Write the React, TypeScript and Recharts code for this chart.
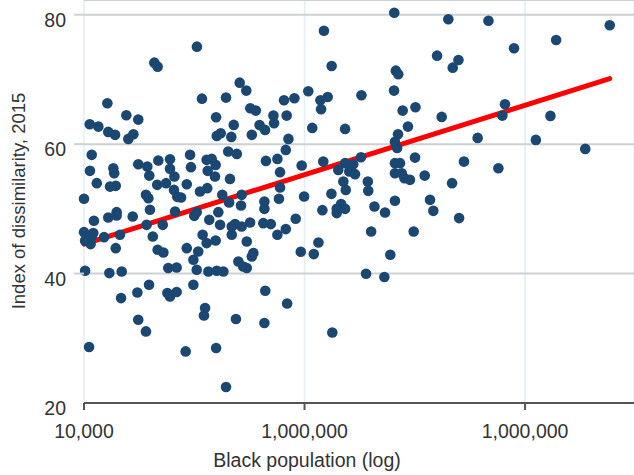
import React from 'react';
import { ScatterChart, Scatter, XAxis, YAxis, CartesianGrid, ReferenceLine } from 'recharts';

// log10 of black population
const blackPopLog = [
  4.512, 4.319, 4.334, 4.706, 4.736, 4.535, 4.644, 4.106, 4.754, 4.779,
  4.599, 4.192, 4.246, 4.026, 4.065, 4.679, 4.796, 4.110, 4.141, 4.224,
  4.201, 4.602, 4.620, 4.668, 4.761, 5.407, 5.088, 5.601, 5.123, 5.414,
  5.425, 5.017, 5.406, 4.907, 4.954, 5.072, 5.105, 5.258, 5.075, 5.445,
  5.503, 4.859, 4.919, 5.622, 4.821, 4.862, 5.035, 5.184, 5.469, 5.424,
  4.927, 5.652, 5.834, 6.384, 6.141, 5.950, 5.698, 5.672, 5.909, 5.897,
  6.115, 5.785, 6.049, 6.273, 5.723, 5.879, 5.669, 5.701, 4.035, 4.027,
  4.058, 4.133, 4.137, 4.118, 4.144, 4.000, 4.246, 4.287, 4.296, 4.337,
  4.390, 4.390, 4.410, 4.332, 4.372, 4.408, 4.423, 4.440, 4.466, 4.481,
  4.485, 4.556, 4.579, 4.597, 4.561, 4.594, 4.654, 4.693, 4.662, 4.526,
  4.559, 4.281, 4.292, 4.299, 4.627, 4.658, 4.715, 4.712, 4.148, 4.148,
  4.110, 4.221, 4.045, 4.000, 4.042, 4.035, 4.030, 4.005, 4.091, 4.163,
  4.144, 4.284, 4.312, 4.357, 4.413, 4.500, 4.511, 4.568, 4.609, 4.617,
  4.538, 4.556, 4.597, 4.670, 4.685, 4.715, 4.753, 4.670, 4.738, 4.466,
  4.334, 4.360, 4.518, 4.496, 4.768, 4.761, 4.700, 4.722, 4.005, 4.115,
  4.171, 4.382, 4.420, 4.511, 4.564, 4.602, 4.632, 4.738, 4.295, 4.242,
  4.168, 4.378, 4.390, 4.420, 4.496, 4.549, 4.544, 4.246, 4.281, 4.689,
  4.023, 4.461, 4.599, 4.644, 5.279, 5.362, 4.822, 4.921, 4.818, 5.126,
  4.915, 4.825, 4.877, 4.889, 4.987, 4.889, 5.085, 5.153, 5.184, 5.221,
  5.203, 5.229, 5.256, 5.176, 5.187, 5.287, 5.289, 5.410, 5.420, 5.410,
  5.433, 5.410, 5.441, 5.453, 5.478, 5.501, 5.545, 4.998, 5.122, 5.081,
  5.166, 5.146, 5.184, 5.146, 5.317, 5.365, 5.410, 5.569, 5.584, 4.818,
  4.818, 4.884, 4.813, 4.847, 4.877, 4.915, 4.960, 5.302, 5.495, 5.063,
  4.983, 5.042, 5.389,
];

const dissimilarity = [
  75.06, 72.59, 71.97, 69.5, 68.27, 67.03, 67.19, 66.32, 65.55, 65.18,
  64.16, 64.47, 63.79, 63.08, 62.71, 62.97, 62.94, 61.89, 61.43, 61.53,
  60.81, 61.27, 61.69, 61.12, 61.43, 80.31, 77.53, 73.67, 72.08, 71.35,
  70.8, 68.17, 68.27, 66.78, 67.09, 66.78, 67.29, 67.56, 65.39, 65.18,
  65.7, 64.41, 64.41, 64.21, 62.2, 63.23, 62.51, 62.35, 62.71, 61.53,
  60.81, 79.29, 79.07, 78.36, 76.09, 74.81, 73.01, 71.82, 66.17, 64.41,
  64.36, 60.96, 60.65, 59.26, 57.3, 56.28, 53.97, 48.57, 58.34, 55.87,
  53.97, 56.28, 55.51, 53.44, 53.55, 51.55, 56.9, 56.53, 55.14, 57.46,
  57.67, 56.18, 54.99, 53.71, 53.97, 52.93, 51.85, 51.75, 53.81, 58.34,
  56.44, 57.57, 57.72, 56.79, 55.87, 54.99, 58.85, 58.49, 54.63, 52.67,
  53.2, 52.16, 51.65, 49.85, 52.16, 50.97, 52.16, 50.51, 49.49, 48.97,
  48.66, 48.81, 48.15, 46.4, 46.25, 45.72, 44.55, 45.06, 45.63, 45.99,
  43.93, 47.53, 45.72, 47.53, 49.58, 48.92, 49.49, 48.3, 49.49, 47.53,
  45.99, 44.71, 45.11, 47.27, 47.64, 47.27, 47.89, 45.99, 44.95, 43.93,
  43.67, 43.25, 43.41, 42.13, 43.16, 42.64, 41.86, 41.09, 40.43, 40.07,
  40.32, 40.85, 40.94, 40.58, 40.32, 40.43, 40.32, 40.85, 38.27, 37.08,
  36.21, 36.99, 36.46, 37.14, 38.27, 34.67, 33.53, 32.86, 31.06, 32.97,
  28.65, 27.97, 28.49, 22.47, 39.97, 39.46, 37.34, 35.38, 32.35, 30.9,
  59.11, 57.41, 57.72, 55.67, 56.69, 53.29, 57.3, 56.02, 57.06, 56.9,
  55.76, 55.36, 57.98, 54.22, 52.93, 54.22, 52.78, 60.35, 59.42, 57.06,
  57.06, 55.51, 55.51, 54.74, 54.48, 57.92, 55.14, 51.9, 52.32, 49.8,
  50.73, 50.0, 50.0, 49.34, 50.36, 49.43, 51.24, 51.39, 49.69, 51.13,
  50.0, 51.55, 47.79, 47.64, 45.99, 46.87, 48.46, 46.5, 46.5, 44.8,
  43.36, 43.01, 42.9,
];

const xTicks = [4, 5, 6];
const xTickLabels = ['10,000', '1,000,000', '1,000,000'];
const yTicks = [20, 40, 60, 80];

// fitted line end points (log population, dissimilarity)
const fitX = [4.0, 6.384];
const fitY = [44.55, 70.12];

const points = blackPopLog.map((x, i) => ({ x, y: dissimilarity[i] }));

const FONT = '"Liberation Sans", Arial, Helvetica, sans-serif';
const TEXT = '#333';

const Dot = (props: any) => (
  <circle cx={props.cx} cy={props.cy} r={5.3} fill="#1a4872" />
);

const YTick = (props: any) => {
  const { y, payload } = props;
  return (
    <g>
      {payload.value !== 20 && (
        <line x1={74} x2={84} y1={y} y2={y} stroke="#cdd0d2" strokeWidth={2} />
      )}
      <text x={66} y={y + 12} textAnchor="end" fontFamily={FONT} fontSize={19.5} fill={TEXT}>
        {payload.value}
      </text>
    </g>
  );
};

const XTick = (props: any) => {
  const { x, payload } = props;
  const idx = xTicks.indexOf(payload.value);
  return (
    <text x={x} y={438} textAnchor="middle" fontFamily={FONT} fontSize={19.5} fill={TEXT}>
      {xTickLabels[idx]}
    </text>
  );
};

export default function App() {
  return (
    <div style={{ position: 'absolute', left: 0, top: 0, background: '#fff' }}>
      <ScatterChart width={634} height={475} margin={{ top: 0, right: 0, bottom: 0, left: 0 }}>
        <CartesianGrid horizontal={false} stroke="#e4edf2" strokeWidth={1.5} />
        <CartesianGrid vertical={false} stroke="#cdd0d2" strokeWidth={2} />
        <XAxis
          type="number"
          dataKey="x"
          domain={[4, 6.494]}
          ticks={xTicks}
          height={72}
          stroke="#555"
          strokeWidth={2}
          tickSize={7}
          tick={<XTick />}
          label={{
            content: () => (
              <text x={307} y={467} textAnchor="middle" fontFamily={FONT} fontSize={19.5} fill={TEXT}>
                Black population (log)
              </text>
            ),
          }}
        />
        <YAxis
          type="number"
          dataKey="y"
          domain={[20, 82.27]}
          ticks={yTicks}
          width={84}
          axisLine={false}
          tickLine={false}
          tick={<YTick />}
          label={{
            content: () => (
              <text
                x={25}
                y={201}
                transform="rotate(-90, 25, 201)"
                textAnchor="middle"
                fontFamily={FONT}
                fontSize={18.5}
                fill={TEXT}
              >
                Index of dissimilarity, 2015
              </text>
            ),
          }}
        />
        <Scatter data={points} shape={<Dot />} isAnimationActive={false} />
        <ReferenceLine
          segment={[
            { x: fitX[0], y: fitY[0] },
            { x: fitX[1], y: fitY[1] },
          ]}
          stroke="#ff0000"
          strokeWidth={5}
          strokeLinecap="round"
          ifOverflow="visible"
        />
      </ScatterChart>
    </div>
  );
}
